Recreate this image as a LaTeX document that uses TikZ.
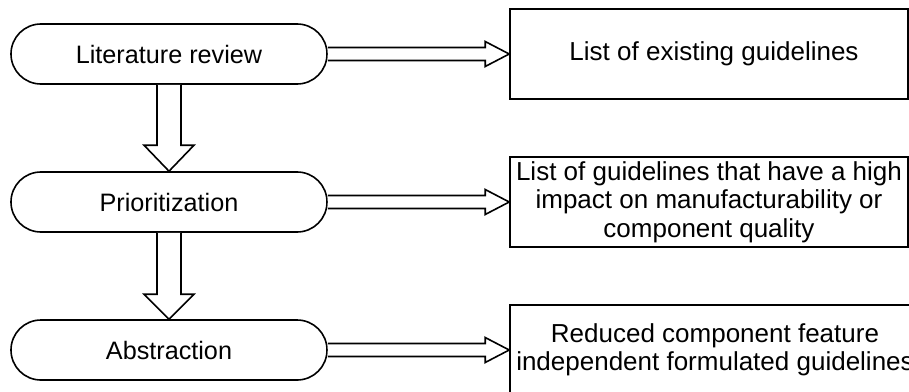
\documentclass[tikz,border=0pt]{standalone}
\usepackage{fontspec}
\setmainfont{Liberation Sans}
\usetikzlibrary{calc}
\begin{document}
\begin{tikzpicture}[x=1pt,y=-1pt,
  stage/.style={font=\fontsize{25.2}{28.5}\selectfont,draw,line width=1.6pt,rectangle,rounded corners=29.9pt,minimum width=316pt,minimum height=60pt,inner sep=0pt},
  result/.style={font=\fontsize{26}{28.5}\selectfont,draw,line width=1.6pt,rectangle,minimum width=398pt,minimum height=90pt,inner sep=0pt,align=center},
  blockarrow/.style={draw,line width=1.6pt,fill=white,line join=miter}]
\useasboundingbox (0,0) rectangle (909,391);
\clip (0,0) rectangle (909,391);
\fill[white] (0,0) rectangle (909,391);

\node[stage] (lit) at (169,54) {Literature review};
\node[stage] (pri) at (169,202) {Prioritization};
\node[stage] (abs) at (169,350) {Abstraction};

\node[result] (r1) at (709,54) {\hspace*{10pt}List of existing guidelines};
\node[result] (r2) at (709,202) {List of guidelines that have a high\\impact on manufacturability or\\component quality};
\node[result,minimum width=410pt] (r3) at (715,350) {Reduced component feature\\independent formulated guidelines};

% vertical block arrows
\draw[blockarrow] ($(lit.south)+(-12,0)$) -- ($(pri.north)+(-12,-26)$) -- ($(pri.north)+(-25,-26)$) -- (pri.north) -- ($(pri.north)+(25,-26)$) -- ($(pri.north)+(12,-26)$) -- ($(lit.south)+(12,0)$);
\draw[blockarrow] ($(pri.south)+(-12,0)$) -- ($(abs.north)+(-12,-25)$) -- ($(abs.north)+(-25,-25)$) -- (abs.north) -- ($(abs.north)+(25,-25)$) -- ($(abs.north)+(12,-25)$) -- ($(pri.south)+(12,0)$);

% horizontal block arrows
\draw[blockarrow] ($(lit.east)+(0,-6.5)$) -- ($(r1.west)+(-24,-6.5)$) -- ($(r1.west)+(-24,-12.5)$) -- (r1.west) -- ($(r1.west)+(-24,12.5)$) -- ($(r1.west)+(-24,6.5)$) -- ($(lit.east)+(0,6.5)$);
\draw[blockarrow] ($(pri.east)+(0,-6.5)$) -- ($(r2.west)+(-24,-6.5)$) -- ($(r2.west)+(-24,-12.5)$) -- (r2.west) -- ($(r2.west)+(-24,12.5)$) -- ($(r2.west)+(-24,6.5)$) -- ($(pri.east)+(0,6.5)$);
\draw[blockarrow] ($(abs.east)+(0,-6.5)$) -- ($(r3.west)+(-24,-6.5)$) -- ($(r3.west)+(-24,-12.5)$) -- (r3.west) -- ($(r3.west)+(-24,12.5)$) -- ($(r3.west)+(-24,6.5)$) -- ($(abs.east)+(0,6.5)$);
\end{tikzpicture}
\end{document}
